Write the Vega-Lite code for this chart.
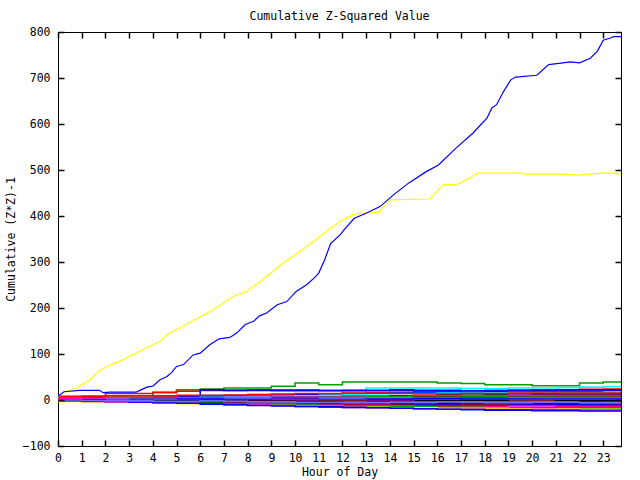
{
  "$schema": "https://vega.github.io/schema/vega-lite/v6.json",
  "width": 563,
  "height": 414,
  "autosize": {"type": "none"},
  "padding": {"left": 58, "top": 32, "right": 19, "bottom": 34},
  "background": "white",
  "title": {"text": "Cumulative Z-Squared Value", "font": "DejaVu Sans Mono", "fontSize": 11.5, "fontWeight": "normal", "color": "black", "offset": 4, "anchor": "middle"},
  "config": {
    "view": {"stroke": "black", "strokeWidth": 1},
    "axis": {"grid": false, "domain": false, "zindex": 1, "ticks": true, "tickColor": "#000000", "tickWidth": 1.5, "tickOpacity": 1, "tickSize": 6, "offset": -6, "labelFont": "DejaVu Sans Mono", "labelFontSize": 11.5, "labelColor": "black", "titleFont": "DejaVu Sans Mono", "titleFontSize": 11.5, "titleFontWeight": "normal", "titleColor": "black"}
  },
  "datasets": {
    "bundle": [
      {"s":"s01","h":0,"v":3},{"s":"s01","h":1,"v":4},{"s":"s01","h":2,"v":6},{"s":"s01","h":3,"v":8},{"s":"s01","h":4,"v":16},{"s":"s01","h":5,"v":22},{"s":"s01","h":6,"v":24},{"s":"s01","h":7,"v":26},{"s":"s01","h":8,"v":26},{"s":"s01","h":9,"v":30},{"s":"s01","h":10,"v":37},{"s":"s01","h":11,"v":33},{"s":"s01","h":12,"v":39},{"s":"s01","h":13,"v":39},{"s":"s01","h":14,"v":39},{"s":"s01","h":15,"v":39},{"s":"s01","h":16,"v":37},{"s":"s01","h":17,"v":36},{"s":"s01","h":18,"v":33},{"s":"s01","h":19,"v":33},{"s":"s01","h":20,"v":31},{"s":"s01","h":21,"v":31},{"s":"s01","h":22,"v":37},{"s":"s01","h":23,"v":39},{"s":"s01","h":23.75,"v":37},
      {"s":"s02","h":0,"v":4},{"s":"s02","h":1,"v":5},{"s":"s02","h":2,"v":6},{"s":"s02","h":3,"v":7},{"s":"s02","h":4,"v":8},{"s":"s02","h":5,"v":9},{"s":"s02","h":6,"v":10},{"s":"s02","h":7,"v":11},{"s":"s02","h":8,"v":12},{"s":"s02","h":9,"v":12},{"s":"s02","h":10,"v":12},{"s":"s02","h":11,"v":13},{"s":"s02","h":12,"v":22},{"s":"s02","h":13,"v":26},{"s":"s02","h":14,"v":26},{"s":"s02","h":15,"v":26},{"s":"s02","h":16,"v":26},{"s":"s02","h":17,"v":25},{"s":"s02","h":18,"v":25},{"s":"s02","h":19,"v":26},{"s":"s02","h":20,"v":26},{"s":"s02","h":21,"v":27},{"s":"s02","h":22,"v":28},{"s":"s02","h":23,"v":29},{"s":"s02","h":23.75,"v":30},
      {"s":"s03","h":0,"v":6},{"s":"s03","h":1,"v":8},{"s":"s03","h":2,"v":14},{"s":"s03","h":3,"v":14},{"s":"s03","h":4,"v":17},{"s":"s03","h":5,"v":19},{"s":"s03","h":6,"v":21},{"s":"s03","h":7,"v":21},{"s":"s03","h":8,"v":22},{"s":"s03","h":9,"v":22},{"s":"s03","h":10,"v":22},{"s":"s03","h":11,"v":21},{"s":"s03","h":12,"v":21},{"s":"s03","h":13,"v":20},{"s":"s03","h":14,"v":20},{"s":"s03","h":15,"v":19},{"s":"s03","h":16,"v":19},{"s":"s03","h":17,"v":20},{"s":"s03","h":18,"v":21},{"s":"s03","h":19,"v":21},{"s":"s03","h":20,"v":22},{"s":"s03","h":21,"v":22},{"s":"s03","h":22,"v":23},{"s":"s03","h":23,"v":24},{"s":"s03","h":23.75,"v":25},
      {"s":"s04","h":0,"v":3},{"s":"s04","h":1,"v":3},{"s":"s04","h":2,"v":2},{"s":"s04","h":3,"v":1},{"s":"s04","h":4,"v":0},{"s":"s04","h":5,"v":8},{"s":"s04","h":6,"v":22},{"s":"s04","h":7,"v":21},{"s":"s04","h":8,"v":21},{"s":"s04","h":9,"v":20},{"s":"s04","h":10,"v":20},{"s":"s04","h":11,"v":20},{"s":"s04","h":12,"v":20},{"s":"s04","h":13,"v":21},{"s":"s04","h":14,"v":22},{"s":"s04","h":15,"v":21},{"s":"s04","h":16,"v":21},{"s":"s04","h":17,"v":20},{"s":"s04","h":18,"v":20},{"s":"s04","h":19,"v":21},{"s":"s04","h":20,"v":21},{"s":"s04","h":21,"v":22},{"s":"s04","h":22,"v":22},{"s":"s04","h":23,"v":22},{"s":"s04","h":23.75,"v":22},
      {"s":"s05","h":0,"v":5},{"s":"s05","h":1,"v":4},{"s":"s05","h":2,"v":4},{"s":"s05","h":3,"v":5},{"s":"s05","h":4,"v":6},{"s":"s05","h":5,"v":7},{"s":"s05","h":6,"v":8},{"s":"s05","h":7,"v":9},{"s":"s05","h":8,"v":10},{"s":"s05","h":9,"v":11},{"s":"s05","h":10,"v":12},{"s":"s05","h":11,"v":13},{"s":"s05","h":12,"v":14},{"s":"s05","h":13,"v":15},{"s":"s05","h":14,"v":16},{"s":"s05","h":15,"v":16},{"s":"s05","h":16,"v":17},{"s":"s05","h":17,"v":17},{"s":"s05","h":18,"v":18},{"s":"s05","h":19,"v":18},{"s":"s05","h":20,"v":19},{"s":"s05","h":21,"v":19},{"s":"s05","h":22,"v":19},{"s":"s05","h":23,"v":20},{"s":"s05","h":23.75,"v":20},
      {"s":"s06","h":0,"v":2},{"s":"s06","h":1,"v":2},{"s":"s06","h":2,"v":3},{"s":"s06","h":3,"v":4},{"s":"s06","h":4,"v":5},{"s":"s06","h":5,"v":5},{"s":"s06","h":6,"v":6},{"s":"s06","h":7,"v":7},{"s":"s06","h":8,"v":8},{"s":"s06","h":9,"v":8},{"s":"s06","h":10,"v":9},{"s":"s06","h":11,"v":10},{"s":"s06","h":12,"v":12},{"s":"s06","h":13,"v":13},{"s":"s06","h":14,"v":14},{"s":"s06","h":15,"v":14},{"s":"s06","h":16,"v":15},{"s":"s06","h":17,"v":15},{"s":"s06","h":18,"v":15},{"s":"s06","h":19,"v":16},{"s":"s06","h":20,"v":16},{"s":"s06","h":21,"v":16},{"s":"s06","h":22,"v":16},{"s":"s06","h":23,"v":17},{"s":"s06","h":23.75,"v":17},
      {"s":"s07","h":0,"v":8},{"s":"s07","h":1,"v":8},{"s":"s07","h":2,"v":9},{"s":"s07","h":3,"v":9},{"s":"s07","h":4,"v":9},{"s":"s07","h":5,"v":10},{"s":"s07","h":6,"v":10},{"s":"s07","h":7,"v":11},{"s":"s07","h":8,"v":12},{"s":"s07","h":9,"v":13},{"s":"s07","h":10,"v":14},{"s":"s07","h":11,"v":14},{"s":"s07","h":12,"v":15},{"s":"s07","h":13,"v":15},{"s":"s07","h":14,"v":14},{"s":"s07","h":15,"v":13},{"s":"s07","h":16,"v":13},{"s":"s07","h":17,"v":14},{"s":"s07","h":18,"v":14},{"s":"s07","h":19,"v":15},{"s":"s07","h":20,"v":15},{"s":"s07","h":21,"v":15},{"s":"s07","h":22,"v":15},{"s":"s07","h":23,"v":15},{"s":"s07","h":23.75,"v":15},
      {"s":"s08","h":0,"v":1},{"s":"s08","h":1,"v":1},{"s":"s08","h":2,"v":2},{"s":"s08","h":3,"v":2},{"s":"s08","h":4,"v":3},{"s":"s08","h":5,"v":3},{"s":"s08","h":6,"v":4},{"s":"s08","h":7,"v":4},{"s":"s08","h":8,"v":5},{"s":"s08","h":9,"v":6},{"s":"s08","h":10,"v":7},{"s":"s08","h":11,"v":7},{"s":"s08","h":12,"v":8},{"s":"s08","h":13,"v":8},{"s":"s08","h":14,"v":9},{"s":"s08","h":15,"v":9},{"s":"s08","h":16,"v":10},{"s":"s08","h":17,"v":10},{"s":"s08","h":18,"v":11},{"s":"s08","h":19,"v":11},{"s":"s08","h":20,"v":12},{"s":"s08","h":21,"v":12},{"s":"s08","h":22,"v":12},{"s":"s08","h":23,"v":12},{"s":"s08","h":23.75,"v":12},
      {"s":"s09","h":0,"v":3},{"s":"s09","h":1,"v":3},{"s":"s09","h":2,"v":4},{"s":"s09","h":3,"v":4},{"s":"s09","h":4,"v":5},{"s":"s09","h":5,"v":5},{"s":"s09","h":6,"v":5},{"s":"s09","h":7,"v":6},{"s":"s09","h":8,"v":6},{"s":"s09","h":9,"v":6},{"s":"s09","h":10,"v":7},{"s":"s09","h":11,"v":7},{"s":"s09","h":12,"v":8},{"s":"s09","h":13,"v":8},{"s":"s09","h":14,"v":8},{"s":"s09","h":15,"v":9},{"s":"s09","h":16,"v":9},{"s":"s09","h":17,"v":9},{"s":"s09","h":18,"v":9},{"s":"s09","h":19,"v":10},{"s":"s09","h":20,"v":10},{"s":"s09","h":21,"v":10},{"s":"s09","h":22,"v":10},{"s":"s09","h":23,"v":10},{"s":"s09","h":23.75,"v":10},
      {"s":"s10","h":0,"v":0},{"s":"s10","h":1,"v":0},{"s":"s10","h":2,"v":1},{"s":"s10","h":3,"v":2},{"s":"s10","h":4,"v":3},{"s":"s10","h":5,"v":3},{"s":"s10","h":6,"v":4},{"s":"s10","h":7,"v":4},{"s":"s10","h":8,"v":5},{"s":"s10","h":9,"v":5},{"s":"s10","h":10,"v":6},{"s":"s10","h":11,"v":6},{"s":"s10","h":12,"v":6},{"s":"s10","h":13,"v":7},{"s":"s10","h":14,"v":7},{"s":"s10","h":15,"v":8},{"s":"s10","h":16,"v":8},{"s":"s10","h":17,"v":8},{"s":"s10","h":18,"v":8},{"s":"s10","h":19,"v":7},{"s":"s10","h":20,"v":7},{"s":"s10","h":21,"v":8},{"s":"s10","h":22,"v":8},{"s":"s10","h":23,"v":8},{"s":"s10","h":23.75,"v":8},
      {"s":"s11","h":0,"v":2},{"s":"s11","h":1,"v":2},{"s":"s11","h":2,"v":2},{"s":"s11","h":3,"v":3},{"s":"s11","h":4,"v":3},{"s":"s11","h":5,"v":2},{"s":"s11","h":6,"v":2},{"s":"s11","h":7,"v":3},{"s":"s11","h":8,"v":3},{"s":"s11","h":9,"v":4},{"s":"s11","h":10,"v":4},{"s":"s11","h":11,"v":5},{"s":"s11","h":12,"v":5},{"s":"s11","h":13,"v":5},{"s":"s11","h":14,"v":5},{"s":"s11","h":15,"v":6},{"s":"s11","h":16,"v":6},{"s":"s11","h":17,"v":5},{"s":"s11","h":18,"v":5},{"s":"s11","h":19,"v":6},{"s":"s11","h":20,"v":6},{"s":"s11","h":21,"v":6},{"s":"s11","h":22,"v":6},{"s":"s11","h":23,"v":6},{"s":"s11","h":23.75,"v":6},
      {"s":"s12","h":0,"v":4},{"s":"s12","h":1,"v":3},{"s":"s12","h":2,"v":3},{"s":"s12","h":3,"v":2},{"s":"s12","h":4,"v":2},{"s":"s12","h":5,"v":3},{"s":"s12","h":6,"v":3},{"s":"s12","h":7,"v":4},{"s":"s12","h":8,"v":4},{"s":"s12","h":9,"v":3},{"s":"s12","h":10,"v":3},{"s":"s12","h":11,"v":4},{"s":"s12","h":12,"v":4},{"s":"s12","h":13,"v":5},{"s":"s12","h":14,"v":5},{"s":"s12","h":15,"v":4},{"s":"s12","h":16,"v":4},{"s":"s12","h":17,"v":3},{"s":"s12","h":18,"v":3},{"s":"s12","h":19,"v":4},{"s":"s12","h":20,"v":4},{"s":"s12","h":21,"v":4},{"s":"s12","h":22,"v":4},{"s":"s12","h":23,"v":4},{"s":"s12","h":23.75,"v":4},
      {"s":"s13","h":0,"v":1},{"s":"s13","h":1,"v":0},{"s":"s13","h":2,"v":0},{"s":"s13","h":3,"v":1},{"s":"s13","h":4,"v":1},{"s":"s13","h":5,"v":2},{"s":"s13","h":6,"v":2},{"s":"s13","h":7,"v":1},{"s":"s13","h":8,"v":1},{"s":"s13","h":9,"v":2},{"s":"s13","h":10,"v":2},{"s":"s13","h":11,"v":1},{"s":"s13","h":12,"v":1},{"s":"s13","h":13,"v":2},{"s":"s13","h":14,"v":2},{"s":"s13","h":15,"v":3},{"s":"s13","h":16,"v":3},{"s":"s13","h":17,"v":2},{"s":"s13","h":18,"v":2},{"s":"s13","h":19,"v":2},{"s":"s13","h":20,"v":2},{"s":"s13","h":21,"v":2},{"s":"s13","h":22,"v":2},{"s":"s13","h":23,"v":2},{"s":"s13","h":23.75,"v":2},
      {"s":"s14","h":0,"v":0},{"s":"s14","h":1,"v":-1},{"s":"s14","h":2,"v":-1},{"s":"s14","h":3,"v":0},{"s":"s14","h":4,"v":0},{"s":"s14","h":5,"v":-1},{"s":"s14","h":6,"v":-1},{"s":"s14","h":7,"v":0},{"s":"s14","h":8,"v":0},{"s":"s14","h":9,"v":1},{"s":"s14","h":10,"v":1},{"s":"s14","h":11,"v":0},{"s":"s14","h":12,"v":0},{"s":"s14","h":13,"v":-1},{"s":"s14","h":14,"v":-1},{"s":"s14","h":15,"v":0},{"s":"s14","h":16,"v":0},{"s":"s14","h":17,"v":-1},{"s":"s14","h":18,"v":-1},{"s":"s14","h":19,"v":0},{"s":"s14","h":20,"v":0},{"s":"s14","h":21,"v":0},{"s":"s14","h":22,"v":0},{"s":"s14","h":23,"v":0},{"s":"s14","h":23.75,"v":0},
      {"s":"s15","h":0,"v":2},{"s":"s15","h":1,"v":1},{"s":"s15","h":2,"v":0},{"s":"s15","h":3,"v":-1},{"s":"s15","h":4,"v":-1},{"s":"s15","h":5,"v":-2},{"s":"s15","h":6,"v":-2},{"s":"s15","h":7,"v":-1},{"s":"s15","h":8,"v":-1},{"s":"s15","h":9,"v":-2},{"s":"s15","h":10,"v":-2},{"s":"s15","h":11,"v":-3},{"s":"s15","h":12,"v":-3},{"s":"s15","h":13,"v":-2},{"s":"s15","h":14,"v":-2},{"s":"s15","h":15,"v":-1},{"s":"s15","h":16,"v":-1},{"s":"s15","h":17,"v":-2},{"s":"s15","h":18,"v":-2},{"s":"s15","h":19,"v":-3},{"s":"s15","h":20,"v":-3},{"s":"s15","h":21,"v":-2},{"s":"s15","h":22,"v":-2},{"s":"s15","h":23,"v":-2},{"s":"s15","h":23.75,"v":-2},
      {"s":"s16","h":0,"v":3},{"s":"s16","h":1,"v":2},{"s":"s16","h":2,"v":1},{"s":"s16","h":3,"v":0},{"s":"s16","h":4,"v":0},{"s":"s16","h":5,"v":-1},{"s":"s16","h":6,"v":-2},{"s":"s16","h":7,"v":-3},{"s":"s16","h":8,"v":-3},{"s":"s16","h":9,"v":-3},{"s":"s16","h":10,"v":-3},{"s":"s16","h":11,"v":-4},{"s":"s16","h":12,"v":-4},{"s":"s16","h":13,"v":-3},{"s":"s16","h":14,"v":-3},{"s":"s16","h":15,"v":-5},{"s":"s16","h":16,"v":-5},{"s":"s16","h":17,"v":-4},{"s":"s16","h":18,"v":-4},{"s":"s16","h":19,"v":-4},{"s":"s16","h":20,"v":-4},{"s":"s16","h":21,"v":-5},{"s":"s16","h":22,"v":-5},{"s":"s16","h":23,"v":-4},{"s":"s16","h":23.75,"v":-4},
      {"s":"s17","h":0,"v":0},{"s":"s17","h":1,"v":0},{"s":"s17","h":2,"v":-1},{"s":"s17","h":3,"v":-2},{"s":"s17","h":4,"v":-2},{"s":"s17","h":5,"v":-3},{"s":"s17","h":6,"v":-3},{"s":"s17","h":7,"v":-4},{"s":"s17","h":8,"v":-4},{"s":"s17","h":9,"v":-5},{"s":"s17","h":10,"v":-5},{"s":"s17","h":11,"v":-4},{"s":"s17","h":12,"v":-4},{"s":"s17","h":13,"v":-6},{"s":"s17","h":14,"v":-6},{"s":"s17","h":15,"v":-5},{"s":"s17","h":16,"v":-5},{"s":"s17","h":17,"v":-6},{"s":"s17","h":18,"v":-6},{"s":"s17","h":19,"v":-7},{"s":"s17","h":20,"v":-7},{"s":"s17","h":21,"v":-6},{"s":"s17","h":22,"v":-6},{"s":"s17","h":23,"v":-6},{"s":"s17","h":23.75,"v":-6},
      {"s":"s18","h":0,"v":1},{"s":"s18","h":1,"v":0},{"s":"s18","h":2,"v":-2},{"s":"s18","h":3,"v":-2},{"s":"s18","h":4,"v":-3},{"s":"s18","h":5,"v":-4},{"s":"s18","h":6,"v":-4},{"s":"s18","h":7,"v":-5},{"s":"s18","h":8,"v":-5},{"s":"s18","h":9,"v":-6},{"s":"s18","h":10,"v":-6},{"s":"s18","h":11,"v":-7},{"s":"s18","h":12,"v":-7},{"s":"s18","h":13,"v":-7},{"s":"s18","h":14,"v":-7},{"s":"s18","h":15,"v":-8},{"s":"s18","h":16,"v":-8},{"s":"s18","h":17,"v":-8},{"s":"s18","h":18,"v":-8},{"s":"s18","h":19,"v":-7},{"s":"s18","h":20,"v":-7},{"s":"s18","h":21,"v":-8},{"s":"s18","h":22,"v":-8},{"s":"s18","h":23,"v":-8},{"s":"s18","h":23.75,"v":-8},
      {"s":"s19","h":0,"v":-1},{"s":"s19","h":1,"v":-2},{"s":"s19","h":2,"v":-3},{"s":"s19","h":3,"v":-3},{"s":"s19","h":4,"v":-4},{"s":"s19","h":5,"v":-5},{"s":"s19","h":6,"v":-6},{"s":"s19","h":7,"v":-6},{"s":"s19","h":8,"v":-7},{"s":"s19","h":9,"v":-8},{"s":"s19","h":10,"v":-8},{"s":"s19","h":11,"v":-9},{"s":"s19","h":12,"v":-9},{"s":"s19","h":13,"v":-9},{"s":"s19","h":14,"v":-9},{"s":"s19","h":15,"v":-10},{"s":"s19","h":16,"v":-10},{"s":"s19","h":17,"v":-11},{"s":"s19","h":18,"v":-11},{"s":"s19","h":19,"v":-10},{"s":"s19","h":20,"v":-10},{"s":"s19","h":21,"v":-10},{"s":"s19","h":22,"v":-10},{"s":"s19","h":23,"v":-10},{"s":"s19","h":23.75,"v":-10},
      {"s":"s20","h":0,"v":0},{"s":"s20","h":1,"v":-1},{"s":"s20","h":2,"v":-2},{"s":"s20","h":3,"v":-3},{"s":"s20","h":4,"v":-4},{"s":"s20","h":5,"v":-4},{"s":"s20","h":6,"v":-5},{"s":"s20","h":7,"v":-6},{"s":"s20","h":8,"v":-7},{"s":"s20","h":9,"v":-8},{"s":"s20","h":10,"v":-9},{"s":"s20","h":11,"v":-9},{"s":"s20","h":12,"v":-10},{"s":"s20","h":13,"v":-11},{"s":"s20","h":14,"v":-11},{"s":"s20","h":15,"v":-12},{"s":"s20","h":16,"v":-12},{"s":"s20","h":17,"v":-11},{"s":"s20","h":18,"v":-11},{"s":"s20","h":19,"v":-12},{"s":"s20","h":20,"v":-12},{"s":"s20","h":21,"v":-13},{"s":"s20","h":22,"v":-13},{"s":"s20","h":23,"v":-12},{"s":"s20","h":23.75,"v":-12},
      {"s":"s21","h":0,"v":-2},{"s":"s21","h":1,"v":-3},{"s":"s21","h":2,"v":-4},{"s":"s21","h":3,"v":-5},{"s":"s21","h":4,"v":-6},{"s":"s21","h":5,"v":-6},{"s":"s21","h":6,"v":-7},{"s":"s21","h":7,"v":-8},{"s":"s21","h":8,"v":-9},{"s":"s21","h":9,"v":-9},{"s":"s21","h":10,"v":-10},{"s":"s21","h":11,"v":-11},{"s":"s21","h":12,"v":-12},{"s":"s21","h":13,"v":-12},{"s":"s21","h":14,"v":-13},{"s":"s21","h":15,"v":-14},{"s":"s21","h":16,"v":-14},{"s":"s21","h":17,"v":-14},{"s":"s21","h":18,"v":-14},{"s":"s21","h":19,"v":-13},{"s":"s21","h":20,"v":-13},{"s":"s21","h":21,"v":-15},{"s":"s21","h":22,"v":-15},{"s":"s21","h":23,"v":-14},{"s":"s21","h":23.75,"v":-14},
      {"s":"s22","h":0,"v":-1},{"s":"s22","h":1,"v":-2},{"s":"s22","h":2,"v":-3},{"s":"s22","h":3,"v":-4},{"s":"s22","h":4,"v":-5},{"s":"s22","h":5,"v":-7},{"s":"s22","h":6,"v":-8},{"s":"s22","h":7,"v":-9},{"s":"s22","h":8,"v":-10},{"s":"s22","h":9,"v":-11},{"s":"s22","h":10,"v":-12},{"s":"s22","h":11,"v":-12},{"s":"s22","h":12,"v":-13},{"s":"s22","h":13,"v":-13},{"s":"s22","h":14,"v":-14},{"s":"s22","h":15,"v":-15},{"s":"s22","h":16,"v":-15},{"s":"s22","h":17,"v":-16},{"s":"s22","h":18,"v":-16},{"s":"s22","h":19,"v":-17},{"s":"s22","h":20,"v":-17},{"s":"s22","h":21,"v":-16},{"s":"s22","h":22,"v":-16},{"s":"s22","h":23,"v":-16},{"s":"s22","h":23.75,"v":-16},
      {"s":"s23","h":0,"v":0},{"s":"s23","h":1,"v":-1},{"s":"s23","h":2,"v":-2},{"s":"s23","h":3,"v":-3},{"s":"s23","h":4,"v":-4},{"s":"s23","h":5,"v":-5},{"s":"s23","h":6,"v":-6},{"s":"s23","h":7,"v":-8},{"s":"s23","h":8,"v":-9},{"s":"s23","h":9,"v":-10},{"s":"s23","h":10,"v":-11},{"s":"s23","h":11,"v":-12},{"s":"s23","h":12,"v":-13},{"s":"s23","h":13,"v":-14},{"s":"s23","h":14,"v":-15},{"s":"s23","h":15,"v":-15},{"s":"s23","h":16,"v":-16},{"s":"s23","h":17,"v":-16},{"s":"s23","h":18,"v":-17},{"s":"s23","h":19,"v":-17},{"s":"s23","h":20,"v":-18},{"s":"s23","h":21,"v":-18},{"s":"s23","h":22,"v":-18},{"s":"s23","h":23,"v":-18},{"s":"s23","h":23.75,"v":-18},
      {"s":"s24","h":0,"v":-3},{"s":"s24","h":1,"v":-4},{"s":"s24","h":2,"v":-5},{"s":"s24","h":3,"v":-6},{"s":"s24","h":4,"v":-7},{"s":"s24","h":5,"v":-8},{"s":"s24","h":6,"v":-9},{"s":"s24","h":7,"v":-10},{"s":"s24","h":8,"v":-11},{"s":"s24","h":9,"v":-12},{"s":"s24","h":10,"v":-13},{"s":"s24","h":11,"v":-14},{"s":"s24","h":12,"v":-15},{"s":"s24","h":13,"v":-16},{"s":"s24","h":14,"v":-17},{"s":"s24","h":15,"v":-17},{"s":"s24","h":16,"v":-18},{"s":"s24","h":17,"v":-18},{"s":"s24","h":18,"v":-18},{"s":"s24","h":19,"v":-19},{"s":"s24","h":20,"v":-19},{"s":"s24","h":21,"v":-19},{"s":"s24","h":22,"v":-20},{"s":"s24","h":23,"v":-20},{"s":"s24","h":23.75,"v":-20},
      {"s":"s25","h":0,"v":-2},{"s":"s25","h":1,"v":-3},{"s":"s25","h":2,"v":-4},{"s":"s25","h":3,"v":-5},{"s":"s25","h":4,"v":-6},{"s":"s25","h":5,"v":-7},{"s":"s25","h":6,"v":-8},{"s":"s25","h":7,"v":-10},{"s":"s25","h":8,"v":-11},{"s":"s25","h":9,"v":-12},{"s":"s25","h":10,"v":-14},{"s":"s25","h":11,"v":-15},{"s":"s25","h":12,"v":-16},{"s":"s25","h":13,"v":-17},{"s":"s25","h":14,"v":-18},{"s":"s25","h":15,"v":-19},{"s":"s25","h":16,"v":-20},{"s":"s25","h":17,"v":-20},{"s":"s25","h":18,"v":-21},{"s":"s25","h":19,"v":-21},{"s":"s25","h":20,"v":-20},{"s":"s25","h":21,"v":-21},{"s":"s25","h":22,"v":-22},{"s":"s25","h":23,"v":-22},{"s":"s25","h":23.75,"v":-22},
      {"s":"s26","h":0,"v":-1},{"s":"s26","h":1,"v":-2},{"s":"s26","h":2,"v":-3},{"s":"s26","h":3,"v":-4},{"s":"s26","h":4,"v":-6},{"s":"s26","h":5,"v":-7},{"s":"s26","h":6,"v":-9},{"s":"s26","h":7,"v":-10},{"s":"s26","h":8,"v":-12},{"s":"s26","h":9,"v":-13},{"s":"s26","h":10,"v":-14},{"s":"s26","h":11,"v":-15},{"s":"s26","h":12,"v":-16},{"s":"s26","h":13,"v":-17},{"s":"s26","h":14,"v":-18},{"s":"s26","h":15,"v":-19},{"s":"s26","h":16,"v":-20},{"s":"s26","h":17,"v":-21},{"s":"s26","h":18,"v":-22},{"s":"s26","h":19,"v":-22},{"s":"s26","h":20,"v":-23},{"s":"s26","h":21,"v":-23},{"s":"s26","h":22,"v":-24},{"s":"s26","h":23,"v":-24},{"s":"s26","h":23.75,"v":-25},
      {"s":"s27","h":0,"v":0},{"s":"s27","h":1,"v":0},{"s":"s27","h":2,"v":-1},{"s":"s27","h":3,"v":-1},{"s":"s27","h":4,"v":-2},{"s":"s27","h":5,"v":-2},{"s":"s27","h":6,"v":-3},{"s":"s27","h":7,"v":-3},{"s":"s27","h":8,"v":-3},{"s":"s27","h":9,"v":-3},{"s":"s27","h":10,"v":-4},{"s":"s27","h":11,"v":-4},{"s":"s27","h":12,"v":-5},{"s":"s27","h":13,"v":-5},{"s":"s27","h":14,"v":-5},{"s":"s27","h":15,"v":-5},{"s":"s27","h":16,"v":-6},{"s":"s27","h":17,"v":-6},{"s":"s27","h":18,"v":-6},{"s":"s27","h":19,"v":-6},{"s":"s27","h":20,"v":-6},{"s":"s27","h":21,"v":-6},{"s":"s27","h":22,"v":-5},{"s":"s27","h":23,"v":-5},{"s":"s27","h":23.75,"v":-5},
      {"s":"s28","h":0,"v":0},{"s":"s28","h":1,"v":-1},{"s":"s28","h":2,"v":-2},{"s":"s28","h":3,"v":-2},{"s":"s28","h":4,"v":-3},{"s":"s28","h":5,"v":-3},{"s":"s28","h":6,"v":-2},{"s":"s28","h":7,"v":-3},{"s":"s28","h":8,"v":-4},{"s":"s28","h":9,"v":-4},{"s":"s28","h":10,"v":-5},{"s":"s28","h":11,"v":-5},{"s":"s28","h":12,"v":-6},{"s":"s28","h":13,"v":-6},{"s":"s28","h":14,"v":-5},{"s":"s28","h":15,"v":-5},{"s":"s28","h":16,"v":-4},{"s":"s28","h":17,"v":-5},{"s":"s28","h":18,"v":-6},{"s":"s28","h":19,"v":-6},{"s":"s28","h":20,"v":-5},{"s":"s28","h":21,"v":-5},{"s":"s28","h":22,"v":-6},{"s":"s28","h":23,"v":-6},{"s":"s28","h":23.75,"v":-7}
    ],
    "big": [
      {"s":"B","h":0,"v":8},{"s":"B","h":0.25,"v":18},{"s":"B","h":0.9,"v":21},{"s":"B","h":1.75,"v":21},{"s":"B","h":1.9,"v":16},{"s":"B","h":2.2,"v":17},{"s":"B","h":3.3,"v":17},{"s":"B","h":3.5,"v":22},{"s":"B","h":3.75,"v":28},{"s":"B","h":4.0,"v":30},{"s":"B","h":4.3,"v":44},{"s":"B","h":4.6,"v":51},{"s":"B","h":4.8,"v":60},{"s":"B","h":5.0,"v":73},{"s":"B","h":5.3,"v":77},{"s":"B","h":5.7,"v":98},{"s":"B","h":6.0,"v":102},{"s":"B","h":6.4,"v":120},{"s":"B","h":6.8,"v":133},{"s":"B","h":7.25,"v":136},{"s":"B","h":7.55,"v":146},{"s":"B","h":7.9,"v":164},{"s":"B","h":8.25,"v":171},{"s":"B","h":8.5,"v":183},{"s":"B","h":8.8,"v":189},{"s":"B","h":9.25,"v":207},{"s":"B","h":9.65,"v":214},{"s":"B","h":10.05,"v":236},{"s":"B","h":10.5,"v":251},{"s":"B","h":10.8,"v":265},{"s":"B","h":11.0,"v":276},{"s":"B","h":11.25,"v":305},{"s":"B","h":11.5,"v":340},{"s":"B","h":11.9,"v":359},{"s":"B","h":12.1,"v":372},{"s":"B","h":12.5,"v":395},{"s":"B","h":13.0,"v":406},{"s":"B","h":13.6,"v":421},{"s":"B","h":14.15,"v":446},{"s":"B","h":14.8,"v":472},{"s":"B","h":15.55,"v":497},{"s":"B","h":16.05,"v":511},{"s":"B","h":16.8,"v":548},{"s":"B","h":17.5,"v":580},{"s":"B","h":18.1,"v":613},{"s":"B","h":18.3,"v":635},{"s":"B","h":18.5,"v":642},{"s":"B","h":18.8,"v":671},{"s":"B","h":19.1,"v":696},{"s":"B","h":19.3,"v":702},{"s":"B","h":20.2,"v":706},{"s":"B","h":20.7,"v":729},{"s":"B","h":21.3,"v":733},{"s":"B","h":21.6,"v":735},{"s":"B","h":22.0,"v":733},{"s":"B","h":22.45,"v":743},{"s":"B","h":22.75,"v":758},{"s":"B","h":23.0,"v":782},{"s":"B","h":23.3,"v":787},{"s":"B","h":23.45,"v":790},{"s":"B","h":23.75,"v":790},
      {"s":"Y","h":0,"v":8},{"s":"Y","h":0.35,"v":19},{"s":"Y","h":0.8,"v":26},{"s":"Y","h":1.35,"v":44},{"s":"Y","h":1.7,"v":62},{"s":"Y","h":2.05,"v":73},{"s":"Y","h":2.6,"v":84},{"s":"Y","h":3.45,"v":106},{"s":"Y","h":4.3,"v":127},{"s":"Y","h":4.6,"v":142},{"s":"Y","h":5.4,"v":164},{"s":"Y","h":6.55,"v":196},{"s":"Y","h":7.4,"v":225},{"s":"Y","h":7.95,"v":236},{"s":"Y","h":8.65,"v":262},{"s":"Y","h":9.4,"v":294},{"s":"Y","h":10.2,"v":323},{"s":"Y","h":10.8,"v":345},{"s":"Y","h":11.5,"v":374},{"s":"Y","h":11.9,"v":388},{"s":"Y","h":12.45,"v":403},{"s":"Y","h":12.75,"v":406},{"s":"Y","h":13.5,"v":408},{"s":"Y","h":14.0,"v":435},{"s":"Y","h":15.7,"v":437},{"s":"Y","h":16.25,"v":468},{"s":"Y","h":16.8,"v":468},{"s":"Y","h":17.25,"v":479},{"s":"Y","h":17.7,"v":493},{"s":"Y","h":19.55,"v":493},{"s":"Y","h":19.6,"v":491},{"s":"Y","h":21.3,"v":491},{"s":"Y","h":21.9,"v":489},{"s":"Y","h":22.45,"v":491},{"s":"Y","h":22.9,"v":493},{"s":"Y","h":23.45,"v":493},{"s":"Y","h":23.75,"v":491}
    ]
  },
  "layer": [
    {
      "data": {"name": "bundle"},
      "mark": {"type": "line", "interpolate": "step-after", "strokeWidth": 1.6, "clip": true},
      "encoding": {
        "x": {"field": "h", "type": "quantitative", "scale": {"domain": [0, 23.75], "nice": false, "zero": false}, "axis": {"orient": "bottom", "title": "Hour of Day", "values": [0,1,2,3,4,5,6,7,8,9,10,11,12,13,14,15,16,17,18,19,20,21,22,23], "zindex": 1, "ticks": true, "tickSize": 6, "tickWidth": 1.5, "tickColor": "#000000", "offset": -6, "labelPadding": 6, "titlePadding": 3, "labelFlush": false, "labelOverlap": false}},
        "y": {"field": "v", "type": "quantitative", "scale": {"domain": [-100, 800], "nice": false, "zero": false}, "axis": {"orient": "left", "title": "Cumulative (Z*Z)-1", "values": [-100,0,100,200,300,400,500,600,700,800], "zindex": 1, "ticks": true, "tickSize": 6, "tickWidth": 1.5, "tickColor": "#000000", "offset": -6, "labelPadding": 8, "titlePadding": 6, "labelFlush": false, "labelOverlap": false}},
        "color": {"field": "s", "type": "nominal", "legend": null, "scale": {"domain": ["s01","s02","s03","s04","s05","s06","s07","s08","s09","s10","s11","s12","s13","s14","s15","s16","s17","s18","s19","s20","s21","s22","s23","s24","s25","s26","s27","s28"], "range": ["#00a000","#00ffff","#ff0000","#0000ff","#0000ff","#00ffff","#ff0000","#000000","#ff00ff","#00a000","#a00000","#7070ff","#0000ff","#ff0000","#000000","#ff00ff","#00ffff","#ff0000","#0000ff","#a00000","#ff00ff","#ff0000","#00a000","#ffff00","#ff00ff","#0000ff","#000000","#7070ff"]}},
        "detail": {"field": "s", "type": "nominal"}
      }
    },
    {
      "data": {"name": "big"},
      "transform": [{"filter": "datum.s === 'Y'"}],
      "mark": {"type": "line", "color": "#ffff00", "strokeWidth": 1.2, "clip": true},
      "encoding": {
        "x": {"field": "h", "type": "quantitative", "scale": {"domain": [0, 23.75], "nice": false, "zero": false}, "axis": {"orient": "top", "title": null, "labels": false, "zindex": 1, "ticks": true, "tickSize": 6, "tickWidth": 1.5, "tickColor": "#000000", "offset": -6, "values": [0,1,2,3,4,5,6,7,8,9,10,11,12,13,14,15,16,17,18,19,20,21,22,23]}},
        "y": {"field": "v", "type": "quantitative", "scale": {"domain": [-100, 800], "nice": false, "zero": false}, "axis": {"orient": "right", "title": null, "labels": false, "zindex": 1, "ticks": true, "tickSize": 6, "tickWidth": 1.5, "tickColor": "#000000", "offset": -6, "values": [-100,0,100,200,300,400,500,600,700,800]}}
      }
    },
    {
      "data": {"name": "big"},
      "transform": [{"filter": "datum.s === 'B'"}],
      "mark": {"type": "line", "color": "#0000ff", "strokeWidth": 1.2, "clip": true},
      "encoding": {
        "x": {"field": "h", "type": "quantitative", "scale": {"domain": [0, 23.75], "nice": false, "zero": false}, "axis": null},
        "y": {"field": "v", "type": "quantitative", "scale": {"domain": [-100, 800], "nice": false, "zero": false}, "axis": null}
      }
    }
  ],
  "resolve": {"scale": {"x": "independent", "y": "independent", "color": "independent"}}
}
